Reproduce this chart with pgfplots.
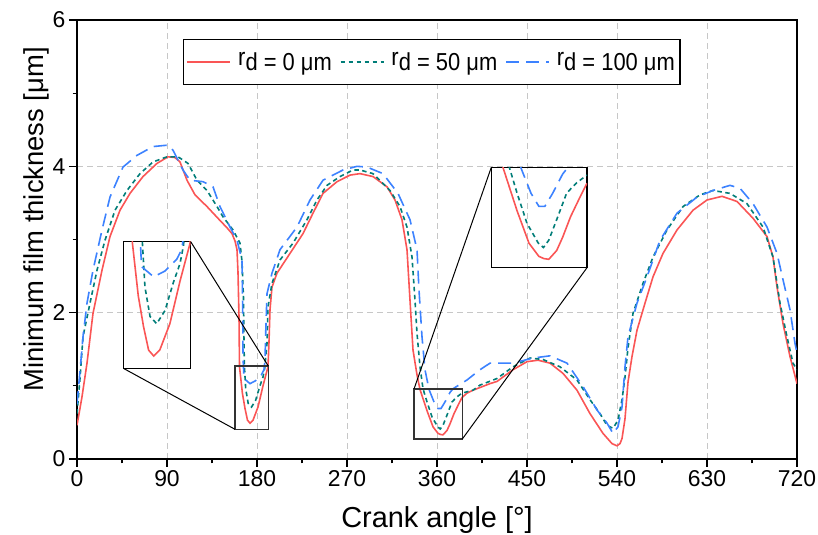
\documentclass[border=0pt]{standalone}
\usepackage{pgfplots}
\pgfplotsset{compat=1.18}
\usepackage{pgfplotstable}
\usepackage{fontspec}
\setmainfont{Liberation Sans}
\definecolor{cred}{RGB}{250,85,85}
\definecolor{cteal}{RGB}{0,125,120}
\definecolor{cblue}{RGB}{60,130,255}

\pgfplotstableread{
x y
0 0.46
5 0.85
10 1.31
16 1.99
25 2.58
33 3.04
43 3.40
53 3.63
66 3.86
80 4.04
91 4.13
98 4.12
103 4.06
110 3.81
118 3.61
130 3.45
143 3.26
150 3.16
155 3.08
158 2.98
160 2.86
161 2.55
162 1.94
162.5 1.26
165.4 0.90
168 0.69
170.5 0.53
173 0.49
176 0.53
181 0.71
186 1.00
191 1.26
192 1.60
193 2.04
195 2.35
200 2.54
213 2.81
226 3.08
236 3.36
246 3.63
260 3.79
273 3.88
283 3.90
296 3.86
310 3.72
318 3.54
325 3.27
330 2.86
332 2.40
334 1.94
336 1.49
340 1.15
343 0.95
350 0.66
356 0.44
361 0.35
363.5 0.335
366 0.33
370 0.39
373 0.48
377 0.62
382 0.76
385 0.84
390 0.90
396 0.94
413 1.03
420 1.06
436 1.22
450 1.33
461 1.35
473 1.31
486 1.17
500 0.94
513 0.62
526 0.35
535 0.21
540 0.18
543 0.21
545 0.28
548 0.55
551 1.05
555 1.40
560 1.76
568 2.13
576 2.49
586 2.81
600 3.13
616 3.40
630 3.54
645 3.59
660 3.52
676 3.29
690 3.04
696 2.76
700 2.35
706 1.85
713 1.40
720 1.03
}\tabA

\pgfplotstableread{
x y
0 0.62
3 1.10
6 1.67
13 2.13
20 2.58
28 2.99
38 3.40
50 3.67
63 3.90
76 4.06
90 4.13
101 4.13
111 4.04
120 3.81
130 3.67
140 3.45
146 3.31
156 3.13
163 2.95
165 2.70
166.5 2.20
167 1.60
167.4 1.27
168.7 0.96
171.2 0.76
174.5 0.71
178.6 0.80
182.7 0.99
186 1.12
187.7 1.24
190 1.58
191 2.08
195 2.40
203 2.72
216 2.95
230 3.27
240 3.54
250 3.74
263 3.86
276 3.95
283 3.95
296 3.90
313 3.67
323 3.45
330 3.17
335 2.76
338 2.17
340 1.72
343 1.26
346 0.96
350 0.78
355 0.575
360.7 0.44
363.3 0.41
366 0.46
370 0.60
375 0.78
380 0.85
385 0.90
396 0.94
403 1.01
420 1.10
436 1.26
453 1.38
466 1.36
483 1.26
500 1.08
513 0.81
523 0.62
530 0.46
536 0.42
541 0.53
545 0.81
548 1.12
551 1.52
556 1.99
566 2.40
576 2.76
590 3.13
606 3.45
623 3.61
636 3.67
653 3.63
670 3.49
686 3.17
696 2.76
703 2.13
710 1.67
716 1.31
720 1.22
}\tabB

\pgfplotstableread{
x y
0 0.75
3 1.20
6 1.67
10 2.13
16 2.58
25 3.13
33 3.58
46 3.99
60 4.15
76 4.27
91 4.29
96 4.22
106 3.95
113 3.81
126 3.79
136 3.72
143 3.45
153 3.17
160 2.99
165 2.72
165.7 2.00
166 1.40
167 1.10
173 1.03
178.6 1.07
184.4 1.15
187 1.22
188 1.35
188.7 1.72
190 2.26
195 2.54
203 2.86
220 3.17
233 3.54
246 3.81
266 3.95
280 4.00
290 3.99
306 3.90
321 3.63
333 3.27
340 2.86
342 2.31
345 1.67
348 1.22
352 0.95
357 0.78
361 0.69
364 0.69
368 0.78
373 0.91
376 0.96
390 1.08
403 1.22
413 1.31
436 1.31
456 1.38
473 1.41
490 1.31
506 0.99
520 0.67
530 0.49
536 0.35
541 0.44
545 0.71
548 1.26
551 1.67
560 2.13
570 2.49
583 2.99
600 3.36
620 3.58
636 3.67
653 3.74
663 3.70
676 3.49
690 3.17
700 2.81
706 2.45
713 2.04
718 1.58
720 1.45
}\tabC

\newcommand{\legtxt}[1]{\scalebox{1}[1.12]{\raisebox{0.18em}{r}d = #1 μm}}

\pgfplotsset{
  sA/.style={cred, line width=1.6bp, solid},
  sB/.style={cteal, line width=1.6bp, dash pattern=on 4.5bp off 3.5bp},
  sC/.style={cblue, line width=1.6bp, dash pattern=on 13bp off 7bp},
  insetax/.style={scale only axis, anchor=south west, xtick=\empty, ytick=\empty,
    axis line style={line width=1.3bp, black}},
}

\begin{document}
\begin{tikzpicture}[x=1bp,y=1bp]
\useasboundingbox (0,0) rectangle (818,535);
\begin{axis}[name=main,
  at={(77bp,76bp)}, anchor=south west,
  scale only axis, width=720bp, height=439bp,
  xmin=0, xmax=720, ymin=0, ymax=6,
  xtick={0,90,...,720}, ytick={0,2,4,6},
  minor xtick={45,135,...,675}, minor ytick={1,3,5},
  tick align=outside, tick pos=left,
  major tick length=8bp, minor tick length=4.5bp,
  every tick/.style={black, line width=1.2bp},
  axis line style={line width=1.6bp, black},
  grid=major,
  major grid style={draw=black!22, dash pattern=on 6bp off 4bp, line width=0.9bp},
  ticklabel style={font=\fontsize{23}{23}\selectfont},
  /pgf/number format/assume math mode=true,
  xlabel={Crank angle [°]},
  xlabel style={font=\fontsize{29}{29}\selectfont, at={(axis description cs:0.5,0)}, anchor=base, yshift=-69bp},
  ylabel={Minimum film thickness [μm]},
  ylabel style={font=\fontsize{27.5}{27.5}\selectfont, at={(axis description cs:0,0.5)}, anchor=base, yshift=34bp, xshift=20bp},
  legend style={at={(axis cs:106,5.745)}, anchor=north west, draw=black, line width=1.3bp,
    font=\fontsize{22}{22}\selectfont, legend columns=3,
    inner xsep=3bp, inner ysep=11bp,
    /tikz/every odd column/.append style={column sep=5bp},
    /tikz/every even column/.append style={column sep=6bp}},
  legend image code/.code={\draw[#1] (0bp,0bp) -- (43bp,0bp);},
]
\addplot[sA] table {\tabA};
\addlegendentry{\legtxt{0}}
\addplot[sB] table {\tabB};
\addlegendentry{\legtxt{50}}
\addplot[sC] table {\tabC};
\addlegendentry{\legtxt{100}}
\draw[line width=1.2bp, black!80] (axis cs:158,0.406) rectangle (axis cs:191.3,1.27);
\draw[line width=1.2bp, black!80] (axis cs:337,0.273) rectangle (axis cs:385.3,0.956);
\coordinate (a1) at (axis cs:191.3,1.27);
\coordinate (b1) at (axis cs:158,0.406);
\coordinate (c2) at (axis cs:337,0.956);
\coordinate (d2) at (axis cs:385.3,0.273);
\end{axis}

\begin{axis}[name=ins1, insetax, at={(123.3bp,166.7bp)}, width=67.4bp, height=126.6bp,
  xmin=158, xmax=191.3, ymin=0.406, ymax=1.27]
\addplot[sA] table {\tabA};
\addplot[sB] table {\tabB};
\addplot[sC] table {\tabC};
\end{axis}

\begin{axis}[name=ins2, insetax, at={(491.3bp,267.3bp)}, width=95.7bp, height=100.4bp,
  xmin=337, xmax=385.3, ymin=0.273, ymax=0.956]
\addplot[sA] table {\tabA};
\addplot[sB] table {\tabB};
\addplot[sC] table {\tabC};
\end{axis}

\draw[line width=1bp] (ins1.north east) -- (a1);
\draw[line width=1bp] (ins1.south west) -- (b1);
\draw[line width=1bp] (ins2.north west) -- (c2);
\draw[line width=1bp] (ins2.south east) -- (d2);
\end{tikzpicture}
\end{document}
